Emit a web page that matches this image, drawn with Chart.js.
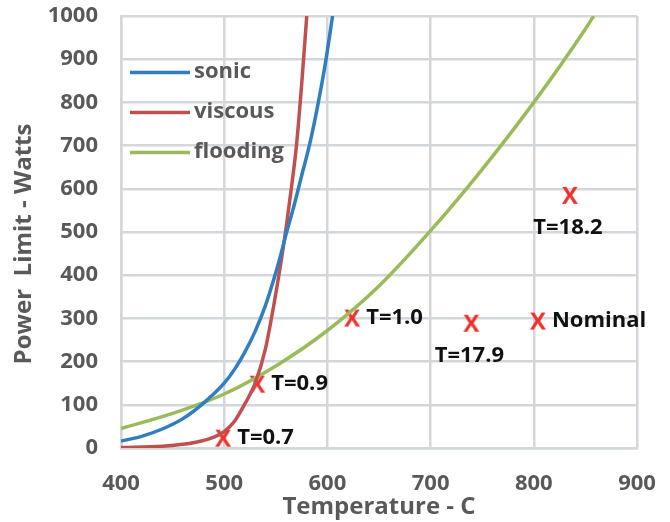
<!DOCTYPE html>
<html>
<head>
<meta charset="utf-8">
<script src="https://cdn.jsdelivr.net/npm/chart.js@4/dist/chart.umd.min.js"></script>
<style>
html,body{margin:0;padding:0;background:#fff;}
#wrap{width:670px;height:522px;}
</style>
</head>
<body>
<div id="wrap"><canvas id="c" width="670" height="522"></canvas></div>
<script>
// ---- data ----
const sonicT = [400,420,440,460,480,500,510,520,530,540,548,554,560,567,575,583,590,598,605];
const sonicP = [16,27,44,68,104,150,182,222,270,330,390,440,495,555,630,705,785,890,1000];
const viscousT = [400,440,470,490,500,510,520,530,540,548,554,560,565,570,575,580];
const viscousP = [1,4,12,25,38,62,102,150,230,330,415,510,600,700,840,1000];
const floodT = [400,450,500,550,600,650,700,750,800,850,858];
const floodP = [45,80,125,190,272,375,503,645,800,970,1000];
const markT = [499,532,624,739.5,804,835];
const markP = [24,149,302,290,295,586];
const markLabels = ['T=0.7','T=0.9','T=1.0','T=17.9','Nominal','T=18.2'];
const markLabelPos = ['right','right','right','below','right','below'];
const seriesNames = ['sonic','viscous','flooding'];
const xTicks = [400,500,600,700,800,900];
const yTicks = [0,100,200,300,400,500,600,700,800,900,1000];
const xTitle = 'Temperature - C';
const yTitle = 'Power  Limit - Watts';

const colors = ['#2f7ec3','#c0504d','#9bbb59'];
const FONT = "'Open Sans', sans-serif";
const zip = (a,b)=>a.map((v,i)=>({x:v,y:b[i]}));

// red "X" glyph used as the marker
const xMark = document.createElement('canvas');
xMark.width = 22; xMark.height = 24;
(function(){
  const g = xMark.getContext('2d');
  g.fillStyle = '#f0302a';
  g.font = "bold 24px " + FONT;
  g.textAlign = 'center';
  g.textBaseline = 'alphabetic';
  g.fillText('X', 11, 20.5);
})();

const legendPlugin = {
  id:'customLegend',
  afterDraw(chart){
    const ctx = chart.ctx;
    const ys = [72.5,112.5,152.5];
    ctx.save();
    seriesNames.forEach((n,i)=>{
      ctx.strokeStyle = colors[i];
      ctx.lineWidth = 3.5;
      ctx.beginPath();
      ctx.moveTo(130, ys[i]); ctx.lineTo(190, ys[i]);
      ctx.stroke();
      ctx.fillStyle = '#595959';
      ctx.font = "bold 22px " + FONT;
      ctx.textBaseline = 'middle';
      ctx.textAlign = 'left';
      ctx.fillText(n, 194, ys[i]-1);
    });
    // rotated y-axis title
    ctx.translate(24, 244);
    ctx.rotate(-Math.PI/2);
    ctx.font = "bold 24px " + FONT;
    ctx.textAlign = 'center';
    ctx.textBaseline = 'middle';
    ctx.fillText(yTitle, 0, 0);
    ctx.restore();
  }
};

const labelPlugin = {
  id:'markLabels',
  afterDatasetsDraw(chart){
    const ctx = chart.ctx;
    const xs = chart.scales.x, ys = chart.scales.y;
    ctx.save();
    ctx.fillStyle = '#111';
    ctx.font = "bold 22px " + FONT;
    ctx.textBaseline = 'middle';
    markT.forEach((t,i)=>{
      const px = xs.getPixelForValue(t), py = ys.getPixelForValue(markP[i]);
      if (markLabelPos[i]==='right'){
        ctx.textAlign='left';
        ctx.fillText(markLabels[i], px+14, py);
      } else {
        ctx.textAlign='center';
        ctx.fillText(markLabels[i], px-2, py+33);
      }
    });
    ctx.restore();
  }
};

const zeroPad = s => { s.paddingTop = 0; s.paddingBottom = 0; s.paddingLeft = 0; s.paddingRight = 0; };

new Chart(document.getElementById('c'), {
  type:'scatter',
  data:{
    datasets:[
      {label:seriesNames[0], data:zip(sonicT,sonicP), showLine:true, borderColor:colors[0], borderWidth:3.5, pointRadius:0, cubicInterpolationMode:'monotone'},
      {label:seriesNames[1], data:zip(viscousT,viscousP), showLine:true, borderColor:colors[1], borderWidth:3.5, pointRadius:0, cubicInterpolationMode:'monotone'},
      {label:seriesNames[2], data:zip(floodT,floodP), showLine:true, borderColor:colors[2], borderWidth:3.5, pointRadius:0, cubicInterpolationMode:'monotone'},
      {label:'points', data:zip(markT,markP), showLine:false, pointStyle:xMark, pointRadius:10, pointHoverRadius:10}
    ]
  },
  options:{
    responsive:false,
    animation:false,
    layout:{padding:{left:0,right:33,top:16,bottom:0}},
    plugins:{legend:{display:false}, tooltip:{enabled:false}},
    scales:{
      x:{
        type:'linear', min:400, max:900,
        afterBuildTicks(s){ s.ticks = xTicks.map(v=>({value:v})); },
        afterFit(s){ s.height = 74; zeroPad(s); },
        grid:{color:'#d3d7db', lineWidth:2.5, drawTicks:false},
        border:{color:'#d3d7db', width:2.5},
        ticks:{padding:23, color:'#595959', font:{family:FONT, size:22, weight:'bold'}, callback:v=>String(v)},
        title:{display:true, text:xTitle, color:'#595959', font:{family:FONT, size:24, weight:'bold'}, padding:{top:0,bottom:0}}
      },
      y:{
        type:'linear', min:0, max:1000,
        afterBuildTicks(s){ s.ticks = yTicks.map(v=>({value:v})); },
        afterFit(s){ s.width = 121; zeroPad(s); },
        grid:{color:'#d3d7db', lineWidth:2.5, drawTicks:false},
        border:{color:'#d3d7db', width:2.5},
        ticks:{padding:23, color:'#595959', font:{family:FONT, size:22, weight:'bold'}, callback:v=>String(v)},
        title:{display:false}
      }
    }
  },
  plugins:[legendPlugin, labelPlugin]
});
</script>
</body>
</html>
